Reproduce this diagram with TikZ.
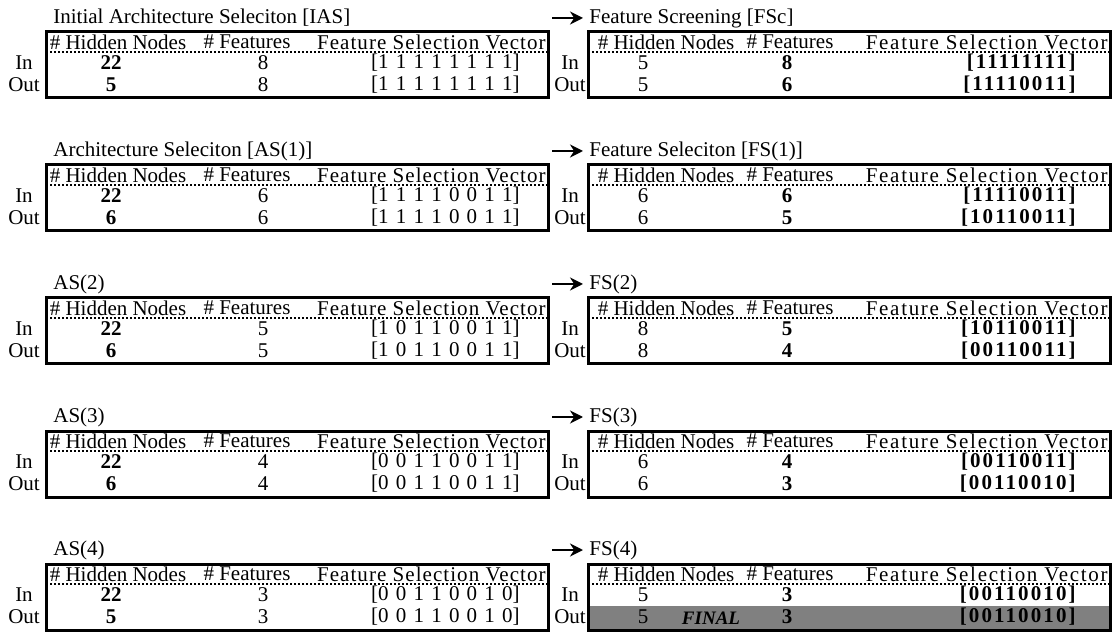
\documentclass[tikz,border=0pt]{standalone}
\usepackage{fontspec}
\setmainfont{Liberation Serif}
\usetikzlibrary{arrows.meta, positioning}

\begin{document}
\begin{tikzpicture}[x=0.5pt, y=-0.5pt,
  every node/.style={inner sep=0pt, font=\fontsize{10.5}{12.6}\selectfont},
  bval/.style={font=\fontsize{10.5}{12.6}\selectfont\bfseries},
  vec/.style={anchor=east, execute at begin node={\spaceskip=3.6pt\relax}},
  bvec/.style={anchor=east, font=\fontsize{10.5}{12.6}\selectfont\bfseries\addfontfeature{LetterSpace=10}},
  fsv/.style={anchor=east, font=\fontsize{10.5}{12.6}\selectfont\addfontfeature{LetterSpace=#1}},
  frame/.style={line width=1.5pt},
  hdrline/.style={line width=1pt, densely dotted},
  final/.style={fill=black!50},
  arr/.style={-{Stealth[length=6.5pt, width=6.5pt]}, line width=1.2pt}]
  \useasboundingbox (0,0) rectangle (1113,641);
  % shaded final row
  \fill[final] (588,606) rectangle (1110,630);
  % architecture selection tables
  \foreach \n/\ty/\ttl/\hA/\fA/\vA/\hB/\fB/\vB in {
    1/32/{Initial Architecture Seleciton [IAS]}/22/8/{[1 1 1 1 1 1 1 1]}/5/8/{[1 1 1 1 1 1 1 1]},
    2/165/{Architecture Seleciton [AS(1)]}/22/6/{[1 1 1 1 0 0 1 1]}/6/6/{[1 1 1 1 0 0 1 1]},
    3/298/{AS(2)}/22/5/{[1 0 1 1 0 0 1 1]}/6/5/{[1 0 1 1 0 0 1 1]},
    4/431/{AS(3)}/22/4/{[0 0 1 1 0 0 1 1]}/6/4/{[0 0 1 1 0 0 1 1]},
    5/564/{AS(4)}/22/3/{[0 0 1 1 0 0 1 0]}/5/3/{[0 0 1 1 0 0 1 0]}} {
    \draw[frame] (46,\ty) rectangle (548,\ty+66);
    \draw[hdrline] (46,\ty+20) -- (548,\ty+20);
    \node[anchor=west] (lt\n) at (53,\ty-14) {\ttl};
    \node (lhn\n) at (118,\ty+10) {\# Hidden Nodes};
    \node (lnf\n) at (247,\ty+10) {\# Features};
    \node[fsv=5] (lfv\n) at (546,\ty+10) {Feature Selection Vector};
    \node (lin\n) at (24,\ty+31) {In};
    \node (lout\n) at (24,\ty+53) {Out};
    \node[bval] (lhA\n) at (111,\ty+31) {\hA};
    \node (lfA\n) at (263,\ty+31) {\fA};
    \node[vec] (lvA\n) at (520,\ty+31) {\vA};
    \node[bval] (lhB\n) at (111,\ty+53) {\hB};
    \node (lfB\n) at (263,\ty+53) {\fB};
    \node[vec] (lvB\n) at (520,\ty+53) {\vB};
  }
  % feature selection tables
  \foreach \n/\ty/\ttl/\hA/\fA/\vA/\hB/\fB/\vB in {
    1/32/{Feature Screening [FSc]}/5/8/{[11111111]}/5/6/{[11110011]},
    2/165/{Feature Seleciton [FS(1)]}/6/6/{[11110011]}/6/5/{[10110011]},
    3/298/{FS(2)}/8/5/{[10110011]}/8/4/{[00110011]},
    4/431/{FS(3)}/6/4/{[00110011]}/6/3/{[00110010]},
    5/564/{FS(4)}/5/3/{[00110010]}/5/3/{[00110010]}} {
    \draw[frame] (588,\ty) rectangle (1110,\ty+66);
    \draw[hdrline] (588,\ty+20) -- (1110,\ty+20);
    \node[anchor=west] (rt\n) at (589,\ty-14) {\ttl};
    \coordinate (ar\n) at (552,\ty-14);
    \draw[arr] (ar\n) -- ([xshift=-3pt]rt\n.west);
    \node (rhn\n) at (666,\ty+10) {\# Hidden Nodes};
    \node (rnf\n) at (790,\ty+10) {\# Features};
    \node[fsv=8] (rfv\n) at (1108,\ty+10) {Feature Selection Vector};
    \node (rin\n) at (570,\ty+31) {In};
    \node (rout\n) at (570,\ty+53) {Out};
    \node (rhA\n) at (643,\ty+31) {\hA};
    \node[bval] (rfA\n) at (787,\ty+31) {\fA};
    \node[bvec] (rvA\n) at (1076,\ty+31) {\vA};
    \node (rhB\n) at (643,\ty+53) {\hB};
    \node[bval] (rfB\n) at (787,\ty+53) {\fB};
    \node[bvec] (rvB\n) at (1076,\ty+53) {\vB};
  }
  \node[font=\fontsize{9.5}{11}\selectfont\bfseries\itshape] (fin) at (711,618) {FINAL};
\end{tikzpicture}
\end{document}
